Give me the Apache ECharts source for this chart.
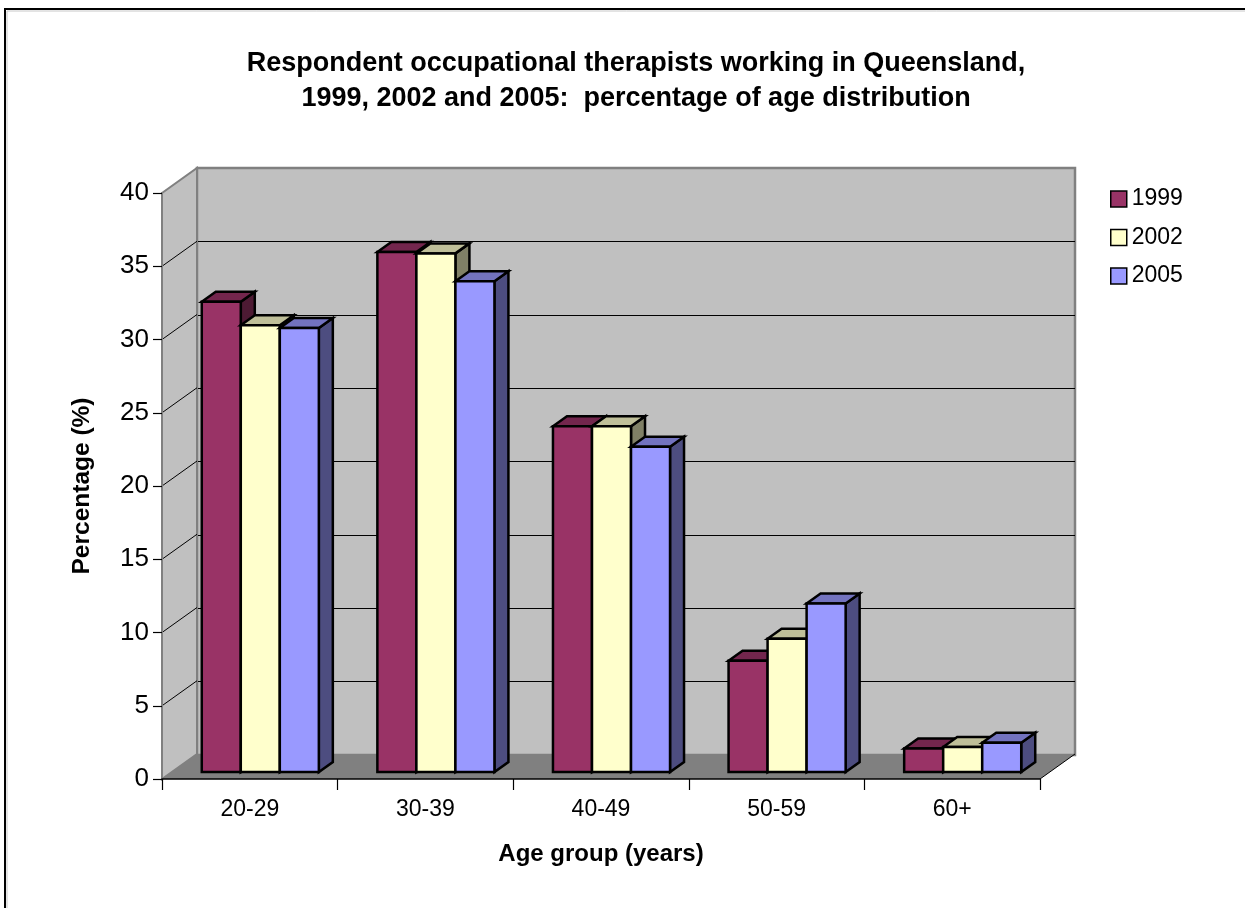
<!DOCTYPE html>
<html><head><meta charset="utf-8">
<script src="https://cdn.jsdelivr.net/npm/echarts@6/dist/echarts.min.js"></script>
<style>html,body{margin:0;padding:0;background:#fff}#c{width:1245px;height:908px}</style>
</head><body><div id="c"></div>
<script>
// ---- data ----
const categories = ['20-29', '30-39', '40-49', '50-59', '60+'];
const years = ['1999', '2002', '2005'];
const values1999 = [32.1, 35.5, 23.6, 7.6, 1.6];
const values2002 = [30.5, 35.4, 23.6, 9.1, 1.7];
const values2005 = [30.3, 33.5, 22.2, 11.5, 2.0];
const yTicks = [0, 5, 10, 15, 20, 25, 30, 35, 40];

// ---- style ----
const FONT = 'Liberation Sans, Arial, sans-serif';
const WALL_DX = 35, WALL_DY = -25;     // back-wall offset
const BAR_DX = 10.5, BAR_DY = -7;      // bar front-face offset
const BAR_DEPTH_X = 14, BAR_DEPTH_Y = -10;
const shades = [
  { front: '#993366', top: '#73264d', side: '#4d1a33' },
  { front: '#ffffcc', top: '#bfbf99', side: '#808066' },
  { front: '#9999ff', top: '#7373bf', side: '#4d4d80' }
];
const seriesValues = [values1999, values2002, values2005];

const chart = echarts.init(document.getElementById('c'), null, { renderer: 'canvas' });

function renderFrame(params, api) {
  const cs = params.coordSys;
  const L = cs.x, R = cs.x + cs.width, T = cs.y, B = cs.y + cs.height;
  const ch = [];
  ch.push({ type: 'polygon', shape: { points: [[L, T], [L + WALL_DX, T + WALL_DY], [L + WALL_DX, B + WALL_DY], [L, B]] },
    style: { fill: '#c0c0c0', stroke: '#808080', lineWidth: 2 } });
  ch.push({ type: 'polygon', shape: { points: [[L, B], [R, B], [R + WALL_DX, B + WALL_DY], [L + WALL_DX, B + WALL_DY]] },
    style: { fill: '#808080' } });
  ch.push({ type: 'line', shape: { x1: R, y1: B, x2: R + WALL_DX, y2: B + WALL_DY }, style: { stroke: '#000', lineWidth: 1 } });
  yTicks.forEach(function (v) {
    if (v === yTicks[0] || v === yTicks[yTicks.length - 1]) return;
    const y = api.coord([0, v])[1];
    ch.push({ type: 'line', shape: { x1: L, y1: y, x2: L + WALL_DX, y2: y + WALL_DY }, style: { stroke: '#000', lineWidth: 1 } });
  });
  return { type: 'group', children: ch };
}

function makeBarRender(si) {
  return function (params, api) {
    const cat = api.value(0), val = api.value(1);
    const topP = api.coord([cat, val]);
    const baseP = api.coord([cat, 0]);
    const band = api.size([1, 0])[0];
    const bw = band / 4.5;
    const x0 = baseP[0] - 1.5 * bw + si * bw + BAR_DX;
    const x1 = x0 + bw;
    const yb = baseP[1] + BAR_DY, yt = topP[1] + BAR_DY;
    const s = shades[si];
    const ls = { stroke: '#000', lineWidth: 2.5, lineJoin: 'miter' };
    return {
      type: 'group',
      children: [
        { type: 'polygon', shape: { points: [[x1, yt], [x1 + BAR_DEPTH_X, yt + BAR_DEPTH_Y], [x1 + BAR_DEPTH_X, yb + BAR_DEPTH_Y], [x1, yb]] },
          style: Object.assign({ fill: s.side }, ls) },
        { type: 'polygon', shape: { points: [[x0, yt], [x0 + BAR_DEPTH_X, yt + BAR_DEPTH_Y], [x1 + BAR_DEPTH_X, yt + BAR_DEPTH_Y], [x1, yt]] },
          style: Object.assign({ fill: s.top }, ls) },
        { type: 'polygon', shape: { points: [[x0, yt], [x1, yt], [x1, yb], [x0, yb]] },
          style: Object.assign({ fill: s.front }, ls) }
      ]
    };
  };
}

const barSeries = years.map(function (y, si) {
  return {
    name: y, type: 'custom', xAxisIndex: 0, yAxisIndex: 0, z: 3,
    renderItem: makeBarRender(si),
    itemStyle: { color: shades[si].front, borderColor: '#000', borderWidth: 1.5 },
    encode: { x: 0, y: 1 },
    data: categories.map(function (c, i) { return [i, seriesValues[si][i]]; })
  };
});

const GL = 162, GT = 193, GW = 878, GH = 586;

chart.setOption({
  backgroundColor: '#fff',
  animation: false,
  title: {
    text: 'Respondent occupational therapists working in Queensland,\n1999, 2002 and 2005:  percentage of age distribution',
    left: 631, top: 41, textAlign: 'center',
    textStyle: { fontFamily: FONT, fontSize: 27, fontWeight: 'bold', color: '#000', lineHeight: 35 }
  },
  legend: {
    orient: 'vertical', left: 1105, top: 182, itemWidth: 16, itemHeight: 16, itemGap: 14.5,
    icon: 'rect',
    textStyle: { fontFamily: FONT, fontSize: 23, color: '#000', lineHeight: 24 },
    data: years.map(function (y, si) {
      return { name: y, itemStyle: { color: shades[si].front, borderColor: '#000', borderWidth: 1.5 } };
    })
  },
  grid: [
    { left: GL, top: GT, width: GW, height: GH, show: false },
    { left: GL + WALL_DX, top: GT + WALL_DY, width: GW, height: GH + 1, show: true,
      backgroundColor: '#c0c0c0', borderColor: '#808080', borderWidth: 2.5, z: 0 }
  ],
  xAxis: [
    { type: 'category', gridIndex: 0, data: categories, boundaryGap: true, z: 5,
      axisLine: { lineStyle: { color: '#000', width: 1.5 } },
      axisTick: { show: true, length: 11, lineStyle: { color: '#000', width: 1.2 } },
      axisLabel: { fontFamily: FONT, fontSize: 23, color: '#000', margin: 19 },
      name: 'Age group (years)', nameLocation: 'middle', nameGap: 63,
      nameTextStyle: { fontFamily: FONT, fontSize: 24, fontWeight: 'bold', color: '#000' }
    },
    { type: 'category', gridIndex: 1, data: categories, show: false }
  ],
  yAxis: [
    { type: 'value', gridIndex: 0, min: 0, max: 40, interval: 5, z: 5,
      axisLine: { show: true, lineStyle: { color: '#808080', width: 2 } },
      axisTick: { show: true, length: 9, lineStyle: { color: '#000', width: 1.2 } },
      axisLabel: { fontFamily: FONT, fontSize: 26, color: '#000', margin: 13 },
      splitLine: { show: false },
      name: 'Percentage (%)', nameLocation: 'middle', nameGap: 67,
      nameTextStyle: { fontFamily: FONT, fontSize: 24.5, fontWeight: 'bold', color: '#000' }
    },
    { type: 'value', gridIndex: 1, min: 0, max: 40, interval: 5,
      axisLine: { show: false }, axisTick: { show: false }, axisLabel: { show: false },
      splitLine: { show: true, showMinLine: false, showMaxLine: false, lineStyle: { color: '#000', width: 1 } }
    }
  ],
  graphic: [
    { type: 'rect', silent: true, z: 100, shape: { x: 5, y: 9, width: 1400, height: 1000 },
      style: { fill: 'none', stroke: '#000', lineWidth: 2 } },
    { type: 'rect', silent: true, z: 100, shape: { x: 7, y: 11, width: 1400, height: 1000 },
      style: { fill: 'none', stroke: '#c8c8c8', lineWidth: 1 } }
  ],
  series: [
    { type: 'custom', name: 'frame', xAxisIndex: 0, yAxisIndex: 0, z: 1, silent: true,
      renderItem: renderFrame, data: [[0, 0]], encode: { x: 0, y: 1 } }
  ].concat(barSeries)
});
</script>
</body></html>
